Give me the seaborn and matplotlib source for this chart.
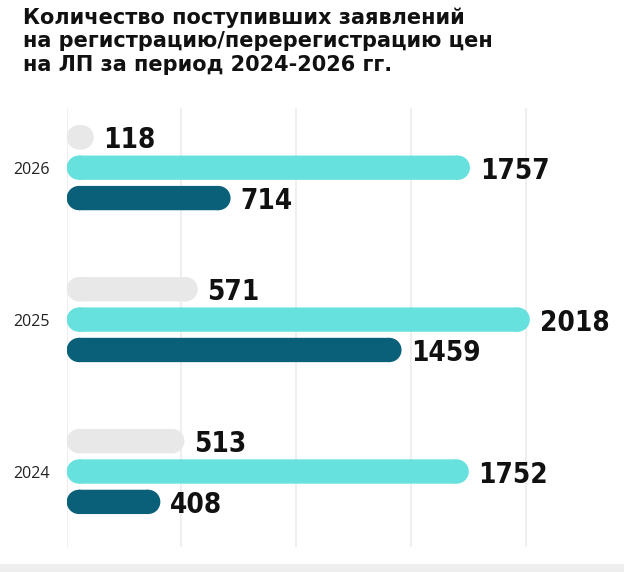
import numpy as np
import pandas as pd
import matplotlib.pyplot as plt
import seaborn as sns
from matplotlib.patches import Ellipse, Rectangle

# values
years = ["2026", "2025", "2024"]
series = ["ряд 1", "ряд 2", "ряд 3"]
light_vals = [118, 571, 513]
cyan_vals = [1757, 2018, 1752]
dark_vals = [714, 1459, 408]
grid_ticks = [0, 500, 1000, 1500, 2000]

colors = ["#e8e8e8", "#66e1dd", "#0b6079"]

title = ("Количество поступивших заявлений\n"
         "на регистрацию/перерегистрацию цен\n"
         "на ЛП за период 2024-2026 гг.")

df = pd.DataFrame({
    "year": years * 3,
    "series": np.repeat(series, len(years)),
    "value": light_vals + cyan_vals + dark_vals,
})

sns.set_style("white")
plt.rcParams["font.family"] = ["DejaVu Sans"]

fig = plt.figure(figsize=(6.24, 5.72), dpi=100)
ax = fig.add_axes([0.1069, 0.0437, 0.8787, 0.7675])

sns.barplot(data=df, x="value", y="year", hue="series", order=years,
            hue_order=series, palette=colors, orient="h", width=0.6, gap=0.2,
            errorbar=None, legend=False, ax=ax, saturation=1)

ax.set_xlim(0, 2389)
ax.set_ylim(2.497, -0.393)
ax.set_xticks(grid_ticks)
ax.set_xticklabels([])
ax.set_xlabel("")
ax.set_ylabel("")
ax.grid(axis="x", color="#efefef", lw=1.5)
ax.set_axisbelow(True)
ax.tick_params(axis="both", length=0)
ax.tick_params(axis="y", pad=12)
for lab in ax.get_yticklabels():
    lab.set_fontfamily(["Open Sans", "DejaVu Sans"])
    lab.set_fontsize(11.5)
    lab.set_color("#222222")
sns.despine(ax=ax, left=True, bottom=True)

# turn the square bars into pills: a core rectangle plus two round ends
(x0, y0), (x1, y1) = ax.transData.transform([(0, 0), (1, 1)])
sx, sy = abs(x1 - x0), abs(y1 - y0)
bars = list(ax.patches)
for bar in bars:
    x, y = bar.get_x(), bar.get_y()
    w, h = bar.get_width(), bar.get_height()
    fc = bar.get_facecolor()
    z = bar.get_zorder()
    r = min(abs(h) * sy, w * sx) / 2 / sx   # end radius in x data units
    yc = y + h / 2
    ax.add_patch(Rectangle((x + r, y), w - 2 * r, h, facecolor=fc,
                           edgecolor="none", zorder=z, snap=False))
    for cx in (x + r, x + w - r):
        ax.add_patch(Ellipse((cx, yc), 2 * r, abs(h), facecolor=fc,
                             edgecolor="none", zorder=z, snap=False))
    bar.set_visible(False)
    ax.annotate(f"{int(round(w))}", (w, yc), xytext=(7, 0),
                textcoords="offset points", ha="left", va="center_baseline",
                fontsize=20, fontweight="bold", fontstretch="condensed",
                color="#111111", annotation_clip=False)

fig.text(0.037, 1 - 7 / 572, title, ha="left", va="top", fontsize=15,
         fontweight="bold", color="#111111", linespacing=1.22)

fig.patches.append(Rectangle((0, 0), 1, 8 / 572, transform=fig.transFigure,
                             facecolor="#eeeeee", edgecolor="none"))

fig.savefig("out.png", dpi=100)
